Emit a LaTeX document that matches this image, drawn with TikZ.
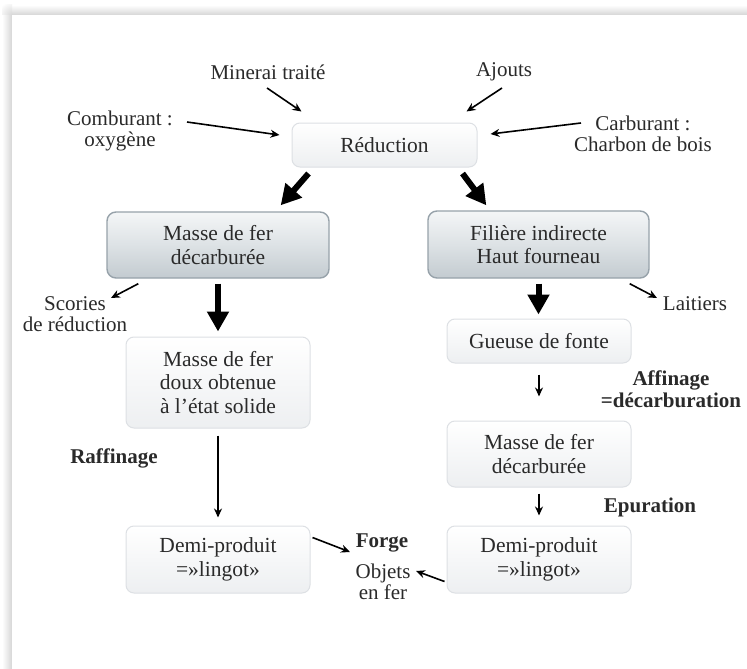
\documentclass[tikz,border=0pt]{standalone}
\usepackage{fontspec}
\setmainfont{Liberation Serif}
\usetikzlibrary{arrows.meta,calc}
\definecolor{txt}{HTML}{2A2A2A}
\definecolor{lightedge}{HTML}{DDE0E4}
\definecolor{lightbot}{HTML}{EDEFF1}
\definecolor{darkedge}{HTML}{97A2AA}
\definecolor{darktop}{HTML}{F4F6F7}
\definecolor{darkmid}{HTML}{DDE2E5}
\definecolor{darkbot}{HTML}{C3CBD0}
\newcommand\myboxfont{\fontsize{21.5}{23.5}\selectfont}
\newcommand\mylabfont{\fontsize{21}{21.5}\selectfont}
\tikzset{
  lightbox/.style={draw=lightedge, line width=1pt, rounded corners=8pt,
    top color=white, bottom color=lightbot, align=center, inner sep=0pt,
    font=\myboxfont, text=txt},
  darkbox/.style={draw=darkedge, line width=1.4pt, rounded corners=9pt,
    top color=darktop, bottom color=darkbot, middle color=darkmid,
    align=center, inner sep=0pt, font=\myboxfont, text=txt},
  lab/.style={align=center, inner sep=0pt, font=\mylabfont, text=txt},
  blab/.style={align=center, inner sep=0pt, font=\mylabfont\bfseries, text=txt},
  thinarrow/.style={line width=1.6pt, -{Stealth[length=9pt,width=8pt]}},
  bigarrow/.style={line width=6pt, -{Triangle[length=20pt,width=21pt]}},
}
\begin{document}
\begin{tikzpicture}[x=1pt,y=-1pt]
\useasboundingbox (0,0) rectangle (747,669);
\fill[white] (0,0) rectangle (747,669);
% panel shadow
\shade[left color=white, right color=black!16] (2,15) rectangle (12,669);
\shade[top color=white, bottom color=black!16] (12,5) rectangle (747,15);
\begin{scope}
\clip (2,5) rectangle (12,15);
\shade[inner color=black!16, outer color=white] (12,15) circle (14);
\end{scope}
\fill[white] (12,15) rectangle (747,669);

% boxes
\node[lightbox, minimum width=185pt, minimum height=44pt] (red) at (384.5,145) {Réduction};
\node[darkbox, minimum width=222pt, minimum height=66pt] (lmass) at (218,245) {Masse de fer\\décarburée};
\node[darkbox, minimum width=221pt, minimum height=67pt] (filiere) at (538.5,244.5) {Filière indirecte\\Haut fourneau};
\node[lightbox, minimum width=184pt, minimum height=91pt] (doux) at (218,382.5) {Masse de fer\\doux obtenue\\à l’état solide};
\node[lightbox, minimum width=184pt, minimum height=67pt] (ldemi) at (218,559.5) {Demi-produit\\=»lingot»};
\node[lightbox, minimum width=184pt, minimum height=44pt] (gueuse) at (539,341) {Gueuse de fonte};
\node[lightbox, minimum width=184pt, minimum height=66pt] (rmasse) at (539,454) {Masse de fer\\décarburée};
\node[lightbox, minimum width=184pt, minimum height=67pt] (rdemi) at (539,559.5) {Demi-produit\\=»lingot»};

% labels
\node[lab] (minerai) at (268,72) {Minerai traité};
\node[lab] (ajouts) at (504,72) {Ajouts};
\node[lab] (comb) at (120,131) {Comburant :\\oxygène};
\node[lab] (carb) at (643,134) {Carburant :\\Charbon de bois};
\node[lab] (scories) at (75,314) {Scories\\de réduction};
\node[lab] (laitiers) at (695,304) {Laitiers};
\node[blab] (raff) at (114,458) {Raffinage};
\node[blab] (affin) at (671,389) {Affinage\\=décarburation};
\node[blab] (epur) at (650,507) {Epuration};
\node[blab] (forge) at (382,543) {Forge};
\node[lab] (objets) at (383,582) {Objets\\en fer};

% input arrows
\draw[thinarrow] ($(minerai.center)+(-1,16)$) -- ($(red.north west)+(10,-11)$);
\draw[thinarrow] ($(ajouts.center)+(-2,16)$) -- ($(red.north east)+(-11,-11)$);
\draw[thinarrow] ($(comb.center)+(67,-9)$) -- ($(red.west)+(-12,-10)$);
\draw[thinarrow] ($(carb.center)+(-62,-11)$) -- ($(red.east)+(13,-11)$);

% big arrows
\draw[bigarrow] ($(red.south west)+(17,6)$) -- ($(lmass.north east)+(-49,-6)$);
\draw[bigarrow] ($(red.south east)+(-15,6)$) -- ($(filiere.north west)+(59,-5)$);
\draw[bigarrow, shorten <=5pt, shorten >=5pt] (lmass.south) -- (doux.north);
\draw[bigarrow, shorten <=5pt, shorten >=4pt] (filiere.south) -- (filiere.south |- gueuse.north);

% side outputs
\draw[thinarrow] ($(lmass.south west)+(32,5)$) -- ($(scories.center)+(36,-16)$);
\draw[thinarrow] ($(filiere.south east)+(-20,5)$) -- ($(laitiers.center)+(-38,-6)$);

% vertical thin arrows
\draw[thinarrow, shorten <=7pt, shorten >=8pt] (doux.south) -- (ldemi.north);
\draw[thinarrow, shorten <=11pt, shorten >=24pt] (gueuse.south) -- (rmasse.north);
\draw[thinarrow, shorten <=6pt, shorten >=10pt] (rmasse.south) -- (rdemi.north);

% forge arrows
\draw[thinarrow] ($(ldemi.north east)+(2,12)$) -- ($(forge.center)+(-32,9)$);
\draw[thinarrow] ($(rdemi.south west)+(-2,-12)$) -- ($(objets.center)+(33,-11)$);
\end{tikzpicture}
\end{document}
